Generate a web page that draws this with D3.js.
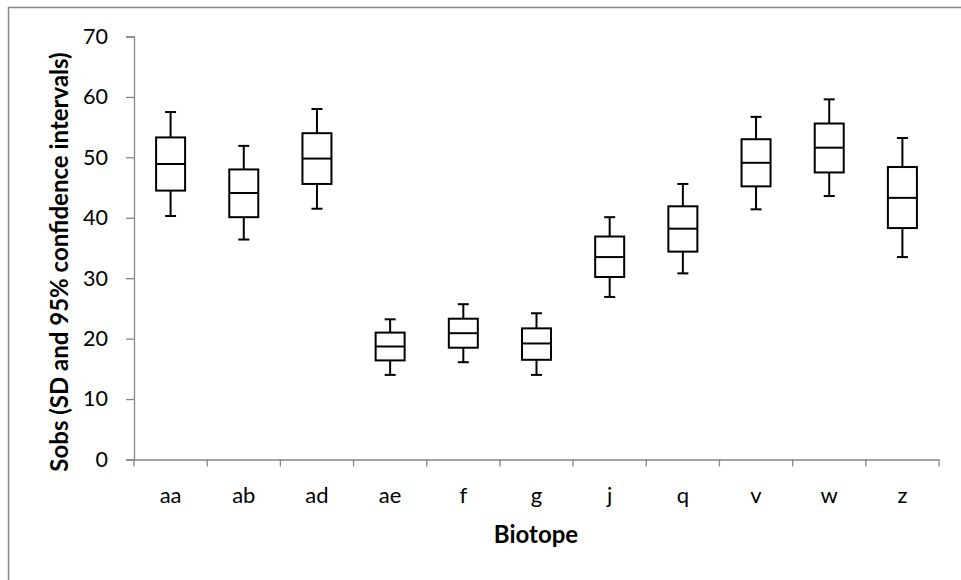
<!DOCTYPE html>
<html>
<head>
<meta charset="utf-8">
<script src="https://cdn.jsdelivr.net/npm/d3@7"></script>
<style>
  body { margin: 0; background: #fff; }
  svg { display: block; font-family: Lato, "Open Sans", sans-serif; }
</style>
</head>
<body>
<div id="chart"></div>
<script>
// Biótopos e estatísticas de cada caixa
const biotopes = ["aa", "ab", "ad", "ae", "f", "g", "j", "q", "v", "w", "z"];
const whiskerLow  = [40.3, 36.4, 41.5, 14.0, 16.1, 14.0, 26.9, 30.8, 41.4, 43.6, 33.5];
const boxLow      = [44.5, 40.1, 45.6, 16.4, 18.5, 16.5, 30.2, 34.4, 45.2, 47.5, 38.3];
const medians     = [48.9, 44.1, 49.8, 18.7, 20.9, 19.2, 33.5, 38.2, 49.1, 51.6, 43.3];
const boxHigh     = [53.3, 48.0, 54.0, 21.0, 23.3, 21.7, 36.9, 41.9, 53.0, 55.6, 48.4];
const whiskerHigh = [57.5, 51.9, 58.0, 23.2, 25.7, 24.2, 40.1, 45.6, 56.7, 59.6, 53.2];
const yTicks = [0, 10, 20, 30, 40, 50, 60, 70];

const width = 961, height = 580;
const margin = { top: 36.5, right: 22, bottom: 120.5, left: 134 };
const axisColor = "#868686";
const fontFamily = "Lato, 'Open Sans', sans-serif";

const svg = d3.select("#chart").append("svg")
  .attr("width", width)
  .attr("height", height);

// moldura externa (só aparecem os lados esquerdo e superior)
svg.append("rect")
  .attr("x", 8.5).attr("y", 7.5)
  .attr("width", width + 20).attr("height", height + 20)
  .attr("fill", "none")
  .attr("stroke", axisColor)
  .attr("stroke-width", 1.5);

const x = d3.scaleBand()
  .domain(biotopes)
  .range([margin.left, width - margin.right])
  .padding(0);

const y = d3.scaleLinear()
  .domain([0, 70])
  .range([height - margin.bottom, margin.top]);

// eixo Y
const yAxis = svg.append("g")
  .attr("transform", `translate(${margin.left},0)`)
  .call(d3.axisLeft(y).tickValues(yTicks).tickSize(8).tickPadding(18))
  .attr("font-family", fontFamily);
yAxis.select(".domain").attr("stroke", axisColor).attr("stroke-width", 1.3);
yAxis.selectAll(".tick line").attr("stroke", axisColor).attr("stroke-width", 1.3);
yAxis.selectAll(".tick text").attr("font-size", "21.5px").attr("fill", "#000");

// eixo X com marcas nas fronteiras das categorias
const xAxis = svg.append("g")
  .attr("transform", `translate(0,${y(0)})`)
  .call(d3.axisBottom(x).tickSize(0).tickPadding(28))
  .attr("font-family", fontFamily);
xAxis.select(".domain").attr("stroke", axisColor).attr("stroke-width", 1.3);
xAxis.selectAll(".tick text").attr("font-size", "22px").attr("fill", "#000");
xAxis.selectAll(".boundary")
  .data(biotopes.concat([null]))
  .enter()
  .append("line")
  .attr("class", "boundary")
  .attr("x1", (d, i) => margin.left + i * x.bandwidth())
  .attr("x2", (d, i) => margin.left + i * x.bandwidth())
  .attr("y1", 0).attr("y2", 7)
  .attr("stroke", axisColor)
  .attr("stroke-width", 1.3);

// caixas
const boxW = 29, capW = 11;
const g = svg.append("g").attr("stroke", "#000").attr("stroke-width", 2).attr("fill", "none");

biotopes.forEach((b, i) => {
  const cx = x(b) + x.bandwidth() / 2;
  // bigodes
  g.append("line")
    .attr("x1", cx).attr("x2", cx)
    .attr("y1", y(whiskerHigh[i])).attr("y2", y(boxHigh[i]));
  g.append("line")
    .attr("x1", cx).attr("x2", cx)
    .attr("y1", y(boxLow[i])).attr("y2", y(whiskerLow[i]));
  g.append("line")
    .attr("x1", cx - capW / 2).attr("x2", cx + capW / 2)
    .attr("y1", y(whiskerHigh[i])).attr("y2", y(whiskerHigh[i]));
  g.append("line")
    .attr("x1", cx - capW / 2).attr("x2", cx + capW / 2)
    .attr("y1", y(whiskerLow[i])).attr("y2", y(whiskerLow[i]));
  // caixa
  g.append("rect")
    .attr("x", cx - boxW / 2)
    .attr("y", y(boxHigh[i]))
    .attr("width", boxW)
    .attr("height", y(boxLow[i]) - y(boxHigh[i]))
    .attr("fill", "#fff");
  // mediana
  g.append("line")
    .attr("x1", cx - boxW / 2).attr("x2", cx + boxW / 2)
    .attr("y1", y(medians[i])).attr("y2", y(medians[i]));
});

// títulos dos eixos
svg.append("text")
  .attr("x", 536)
  .attr("y", 543)
  .attr("text-anchor", "middle")
  .attr("font-size", "24px")
  .attr("font-weight", "bold")
  .text("Biotope");

svg.append("text")
  .attr("transform", "translate(68,262) rotate(-90)")
  .attr("text-anchor", "middle")
  .attr("font-size", "24px")
  .attr("font-weight", "bold")
  .text("Sobs (SD and 95% confidence intervals)");
</script>
</body>
</html>
